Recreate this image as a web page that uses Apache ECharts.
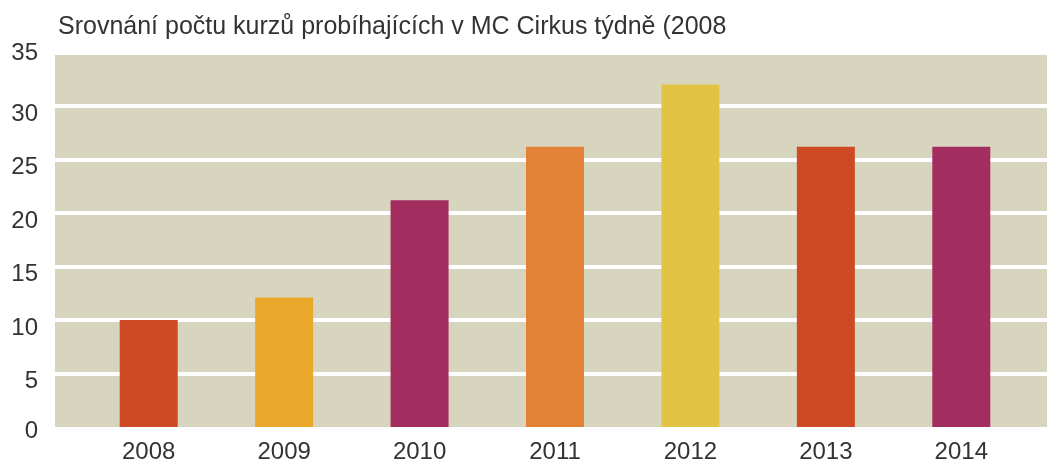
<!DOCTYPE html>
<html>
<head>
<meta charset="utf-8">
<script src="https://cdn.jsdelivr.net/npm/echarts@6/dist/echarts.min.js"></script>
<style>
  html, body { margin: 0; padding: 0; background: #fff; }
  #chart { width: 1047px; height: 461px; }
</style>
</head>
<body>
<div id="chart"></div>
<script>
var years = ["2008", "2009", "2010", "2011", "2012", "2013", "2014"];
var kurzy = [10, 12.1, 21.2, 26.2, 32, 26.2, 26.2];
var barvy = ["#CE4A25", "#EAA82B", "#A32D5F", "#E38235", "#E3C343", "#CE4A25", "#A32D5F"];
var yTicks = [0, 5, 10, 15, 20, 25, 30, 35];

var font = "Liberation Sans, Arial, sans-serif";
var myChart = echarts.init(document.getElementById("chart"));

myChart.setOption({
  animation: false,
  title: {
    text: "Srovnání počtu kurzů probíhajících v MC Cirkus týdně (2008",
    left: 53,
    top: 10,
    textStyle: { fontFamily: font, fontSize: 25, fontWeight: "normal", color: "#333" }
  },
  grid: [
    // beige panel + white gridlines
    { left: 55, right: 0, top: 52.5, bottom: 34, outerBoundsMode: "none", show: true, backgroundColor: "#D8D5BE", borderWidth: 0 },
    // bars
    { left: 81, right: 18, top: 52.5, bottom: 34, outerBoundsMode: "none" }
  ],
  xAxis: [
    { gridIndex: 0, type: "value", show: false },
    {
      gridIndex: 1,
      type: "category",
      data: years,
      axisLine: { show: false },
      axisTick: { show: false },
      axisLabel: { margin: 13, fontFamily: font, fontSize: 24, color: "#333" }
    }
  ],
  yAxis: [
    {
      gridIndex: 0,
      type: "value",
      min: 0,
      max: 35,
      interval: 5,
      axisLine: { show: false },
      axisTick: { show: false },
      splitLine: { show: true, showMinLine: false, lineStyle: { color: "#fff", width: 4 } },
      axisLabel: {
        margin: 17,
        verticalAlign: "top",
        fontFamily: font,
        fontSize: 24,
        color: "#333",
        formatter: function (v) {
          if (v === yTicks[yTicks.length - 1]) return "{top|" + v + "}";
          if (v === yTicks[0]) return "{bot|" + v + "}";
          return "{n|" + v + "}";
        },
        rich: {
          n: { fontFamily: font, fontSize: 24, color: "#333", padding: [-4, 0, 0, 0] },
          top: { fontFamily: font, fontSize: 24, color: "#333", padding: [-11, 0, 0, 0] },
          bot: { fontFamily: font, fontSize: 24, color: "#333", padding: [-8, 0, 0, 0] }
        }
      }
    },
    { gridIndex: 1, type: "value", min: 0, max: 35, show: false, splitLine: { show: false } }
  ],
  series: [
    {
      name: "Počet kurzů",
      type: "bar",
      xAxisIndex: 1,
      yAxisIndex: 1,
      barWidth: 58,
      data: kurzy.map(function (v, i) {
        return { value: v, itemStyle: { color: barvy[i] } };
      })
    }
  ]
});
</script>
</body>
</html>
